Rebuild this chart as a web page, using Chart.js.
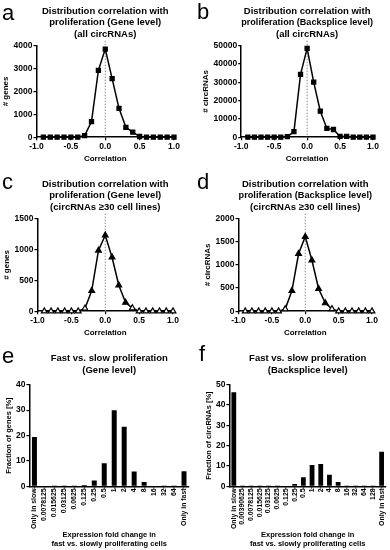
<!DOCTYPE html>
<html>
<head>
<meta charset="utf-8">
<script src="https://cdn.jsdelivr.net/npm/chart.js@4.4.1/dist/chart.umd.min.js"></script>
<style>
  html, body { margin: 0; padding: 0; background: #fff; }
  #wrap { position: relative; width: 390px; height: 550px; overflow: hidden; }
  #wrap canvas { position: absolute; }
  .lt { position: absolute; font: 22px 'Liberation Sans', Arial, sans-serif; color: #000; line-height: 1; }
</style>
</head>
<body>
<div id="wrap">
  <canvas id="cA" width="195" height="166" style="left:0;top:0"></canvas>
  <canvas id="cB" width="195" height="166" style="left:195px;top:0"></canvas>
  <canvas id="cC" width="195" height="167" style="left:0;top:173px"></canvas>
  <canvas id="cD" width="195" height="167" style="left:195px;top:173px"></canvas>
  <canvas id="cE" width="195" height="203" style="left:0;top:345px"></canvas>
  <canvas id="cF" width="195" height="203" style="left:195px;top:345px"></canvas>
  <div class="lt" style="left:2px;top:2px">a</div>
  <div class="lt" style="left:197px;top:1px">b</div>
  <div class="lt" style="left:2px;top:171px">c</div>
  <div class="lt" style="left:197px;top:171px">d</div>
  <div class="lt" style="left:2px;top:345px">e</div>
  <div class="lt" style="left:199px;top:343px">f</div>
</div>
<script>
// correlation bins (x) shared by panels a-d
const CORR = [-0.9, -0.8, -0.7, -0.6, -0.5, -0.4, -0.3, -0.2, -0.1, 0.0,
              0.1, 0.2, 0.3, 0.4, 0.5, 0.6, 0.7, 0.8, 0.9, 1.0];
const GENE_ALL = [0, 0, 0, 0, 0, 0, 70, 680, 2920, 3850, 2560, 1260, 430, 220, 30, 0, 0, 0, 0, 0];
const BS_ALL = [0, 0, 0, 0, 0, 0, 300, 3000, 34300, 48500, 30100, 14200, 4800, 4200, 400, 500, 0, 0, 0, 0];
const GENE_30 = [0, 0, 0, 0, 0, 0, 45, 330, 985, 1230, 875, 420, 140, 50, 0, 0, 0, 0, 0, 0];
const BS_30 = [0, 0, 0, 0, 0, 0, 45, 440, 1240, 1610, 1100, 485, 175, 50, 0, 0, 0, 0, 0, 0];

const E_CATS = ['Only in slow', '0.0078125', '0.015625', '0.03125', '0.0625', '0.125', '0.25', '0.5',
                '1', '2', '4', '8', '16', '32', '64', 'Only in fast'];
const E_VALS = [19.4, 0, 0.1, 0.1, 0.1, 0.6, 2.3, 9.1, 30.0, 23.5, 5.9, 1.7, 0.3, 0.2, 0.1, 6.0];
const F_CATS = ['Only in slow', '0.00390625', '0.0078125', '0.015625', '0.03125', '0.0625', '0.125', '0.25',
                '0.5', '1', '2', '4', '8', '16', '32', '64', '128', 'Only in fast'];
const F_VALS = [46.3, 0.1, 0.1, 0.1, 0.1, 0.1, 0.3, 1.2, 4.5, 10.5, 11.0, 5.7, 2.2, 0.2, 0.1, 0.1, 0.1, 17.1];

const FONT = "'Liberation Sans', Arial, sans-serif";
const tickFont = (s) => ({ family: FONT, size: s, weight: 'bold' });

// línea punteada vertical en correlación = 0
const zeroLine = {
  id: 'zeroLine',
  beforeDatasetsDraw(chart) {
    const { ctx, chartArea, scales } = chart;
    const x = scales.x.getPixelForValue(0);
    ctx.save();
    ctx.setLineDash([1.5, 1.5]);
    ctx.strokeStyle = '#8a8a8a';
    ctx.lineWidth = 1;
    ctx.beginPath();
    ctx.moveTo(x, chartArea.top - 5);
    ctx.lineTo(x, chartArea.bottom);
    ctx.stroke();
    ctx.restore();
  },
};

function axisGrid() {
  return { drawOnChartArea: false, drawTicks: true, tickLength: 3, color: '#000', lineWidth: 1.2 };
}
function axisBorder() {
  return { display: true, color: '#000', width: 1.5 };
}

function lineChart(id, title, yTitle, values, yMax, yStep, pointStyle, padding) {
  new Chart(document.getElementById(id), {
    type: 'line',
    data: {
      datasets: [{
        data: CORR.map((x, i) => ({ x, y: values[i] })),
        borderColor: '#000',
        borderWidth: 1.5,
        tension: 0,
        pointStyle,
        pointRadius: pointStyle === 'rect' ? 2.9 : 3.3,
        // triángulos abiertos en cero, rellenos cerca del pico (como en el original)
        pointBackgroundColor: (c) => (pointStyle === 'rect' || (c.raw && c.raw.y > 100) ? '#000' : '#fff'),
        pointBorderColor: '#000',
        pointBorderWidth: 1.2,
        clip: false,
      }],
    },
    options: {
      responsive: false,
      animation: false,
      layout: { padding },
      plugins: {
        legend: { display: false },
        tooltip: { enabled: false },
        title: {
          display: true, text: title, color: '#000', fullSize: false,
          font: { family: FONT, size: 9.5, weight: 'bold', lineHeight: 1.18 },
          padding: { top: 6, bottom: 6 },
        },
      },
      scales: {
        x: {
          type: 'linear', min: -1, max: 1,
          ticks: { stepSize: 0.5, callback: (v) => v.toFixed(1), color: '#000', font: tickFont(8.5), padding: 1, maxRotation: 0 },
          grid: axisGrid(), border: axisBorder(),
          title: { display: true, text: 'Correlation', color: '#000', font: tickFont(8), padding: { top: 2, bottom: 0 } },
        },
        y: {
          min: 0, max: yMax,
          ticks: { stepSize: yStep, callback: (v) => String(v), color: '#000', font: tickFont(8.5), padding: 1 },
          grid: axisGrid(), border: axisBorder(),
          title: { display: true, text: yTitle, color: '#000', font: tickFont(8), padding: { top: 0, bottom: 2 } },
        },
      },
    },
    plugins: [zeroLine],
  });
}

function barChart(id, title, yTitle, cats, vals, yMax, barPct, padding) {
  new Chart(document.getElementById(id), {
    type: 'bar',
    data: {
      labels: cats,
      datasets: [{ data: vals, backgroundColor: '#000', barPercentage: barPct, categoryPercentage: 1 }],
    },
    options: {
      responsive: false,
      animation: false,
      layout: { padding },
      plugins: {
        legend: { display: false },
        tooltip: { enabled: false },
        title: {
          display: true, text: title, color: '#000', fullSize: false,
          font: { family: FONT, size: 9.5, weight: 'bold', lineHeight: 1.3 },
          padding: { top: 7, bottom: 8 },
        },
      },
      scales: {
        x: {
          ticks: { autoSkip: false, minRotation: 90, maxRotation: 90, color: '#000', font: tickFont(6.9), padding: 0 },
          grid: { ...axisGrid(), offset: false, tickLength: 2 },
          border: axisBorder(),
          title: {
            display: true, text: ['Expression fold change in', 'fast vs. slowly proliferating cells'],
            color: '#000', font: { family: FONT, size: 7.5, weight: 'bold', lineHeight: 1.2 }, padding: { top: 1, bottom: 0 },
          },
        },
        y: {
          min: 0, max: yMax,
          ticks: { stepSize: 10, color: '#000', font: tickFont(8.5), padding: 1 },
          grid: axisGrid(), border: axisBorder(),
          title: { display: true, text: yTitle, color: '#000', font: tickFont(7.5), padding: { top: 0, bottom: 2 } },
        },
      },
    },
  });
}

lineChart('cA', ['Distribution correlation with', 'proliferation (Gene level)', '(all circRNAs)'],
  '# genes', GENE_ALL, 4000, 1000, 'rect', { left: 1, right: 21, top: 0, bottom: 2 });
lineChart('cB', ['Distribution correlation with', 'proliferation (Backsplice level)', '(all circRNAs)'],
  '# circRNAs', BS_ALL, 50000, 10000, 'rect', { left: 6, right: 17, top: 0, bottom: 2 });
lineChart('cC', ['Distribution correlation with', 'proliferation (Gene level)', '(circRNAs \u226530 cell lines)'],
  '# genes', GENE_30, 1500, 500, 'triangle', { left: 2, right: 22, top: 0, bottom: 2 });
lineChart('cD', ['Distribution correlation with', 'proliferation (Backsplice level)', '(circRNAs \u226530 cell lines)'],
  '# circRNAs', BS_30, 2000, 500, 'triangle', { left: 8, right: 18, top: 0, bottom: 2 });
barChart('cE', ['Fast vs. slow proliferation', '(Gene level)'], 'Fraction of genes [%]',
  E_CATS, E_VALS, 40, 0.5, { left: 4, right: 6, top: 0, bottom: 0 });
barChart('cF', ['Fast vs. slow proliferation', '(Backsplice level)'], 'Fraction of circRNAs [%]',
  F_CATS, F_VALS, 50, 0.55, { left: 9, right: 0, top: 0, bottom: 0 });
</script>
</body>
</html>
